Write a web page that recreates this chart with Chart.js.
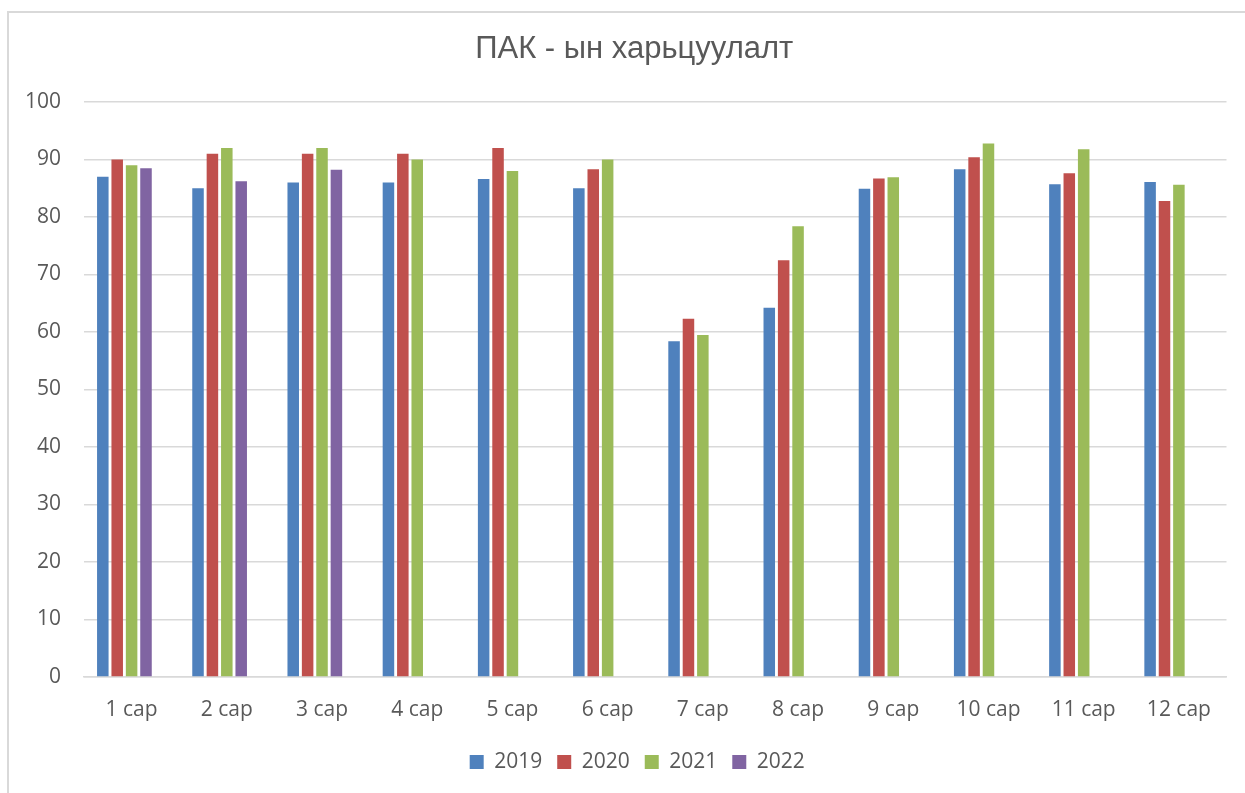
<!DOCTYPE html>
<html>
<head>
<meta charset="utf-8">
<script src="https://cdn.jsdelivr.net/npm/chart.js@4.4.0/dist/chart.umd.min.js"></script>
<style>
  html, body { margin: 0; padding: 0; background: #fff; overflow: hidden; }
  #wrap { position: absolute; left: 0; top: 0; width: 1245px; height: 793px; }
  #frame { position: absolute; left: 7px; top: 11px; width: 1260px; height: 800px; border: 2px solid #d9d9d9; box-sizing: border-box; }
</style>
</head>
<body>
<div id="frame"></div>
<div id="wrap"><canvas id="c" width="1245" height="793"></canvas></div>
<script>
const categories = ["1 сар","2 сар","3 сар","4 сар","5 сар","6 сар","7 сар","8 сар","9 сар","10 сар","11 сар","12 сар"];
const s2019 = [87.0, 85.0, 86.0, 86.0, 86.6, 85.0, 58.4, 64.2, 84.9, 88.3, 85.7, 86.1];
const s2020 = [90.0, 91.0, 91.0, 91.0, 92.0, 88.3, 62.3, 72.5, 86.7, 90.4, 87.6, 82.8];
const s2021 = [89.0, 92.0, 92.0, 90.0, 88.0, 90.0, 59.5, 78.4, 86.9, 92.8, 91.8, 85.6];
const s2022 = [88.5, 86.2, 88.2, null, null, null, null, null, null, null, null, null];
const sEmpty = [null, null, null, null, null, null, null, null, null, null, null, null];
const seriesNames = ["2019", "2020", "2021", "2022"];
const colors = ["#4F81BD", "#C0504D", "#9BBB59", "#8064A2"];
const yTicks = [0, 10, 20, 30, 40, 50, 60, 70, 80, 90, 100];
const titleText = "ПАК - ын харьцуулалт";

const textColor = "#595959";
const tickFont = { family: "'Open Sans', sans-serif", size: 21 };

const allSeries = [s2019, s2020, s2021, s2022];
const datasets = allSeries.map((d, i) => ({
  label: seriesNames[i],
  data: d,
  backgroundColor: colors[i],
  borderWidth: 0,
  barPercentage: 0.8,
  categoryPercentage: 0.756
}));
datasets.push({ label: "", data: sEmpty, backgroundColor: "rgba(0,0,0,0)", barPercentage: 0.8, categoryPercentage: 0.756 });

const shiftBoxes = {
  id: "shiftBoxes",
  afterLayout(chart) {
    if (chart.legend) { chart.legend.left += 14; chart.legend.right += 14; }
    if (chart.titleBlock) { chart.titleBlock.left += 11; chart.titleBlock.right += 11; }
  }
};

new Chart(document.getElementById("c"), {
  type: "bar",
  data: { labels: categories, datasets: datasets },
  plugins: [shiftBoxes],
  options: {
    responsive: false,
    animation: false,
    layout: { padding: { left: 20, right: 18.5, top: 0, bottom: 10.5 } },
    plugins: {
      title: {
        display: true,
        text: titleText,
        color: textColor,
        font: { family: "'Liberation Sans', Arial, sans-serif", size: 31, weight: "normal", lineHeight: 1.2 },
        padding: { top: 31, bottom: 33.8 }
      },
      legend: {
        position: "bottom",
        labels: {
          color: textColor,
          font: tickFont,
          boxWidth: 14,
          boxHeight: 14,
          padding: 15,
          filter: (item) => item.text !== ""
        }
      },
      tooltip: { enabled: false }
    },
    scales: {
      x: {
        grid: { display: false, drawTicks: false },
        border: { display: true, color: "#d9d9d9", width: 1.5 },
        ticks: { color: textColor, font: tickFont, padding: 20, maxRotation: 0 },
        afterFit: (s) => { s.height = 59.5; }
      },
      y: {
        min: 0, max: 100,
        afterBuildTicks: (s) => { s.ticks = yTicks.map(v => ({ value: v })); },
        grid: { color: "#d9d9d9", lineWidth: 1.5, drawTicks: false },
        border: { display: false },
        ticks: { color: textColor, font: tickFont, padding: 23 },
        afterFit: (s) => { s.width = 64; }
      }
    }
  }
});
</script>
</body>
</html>
